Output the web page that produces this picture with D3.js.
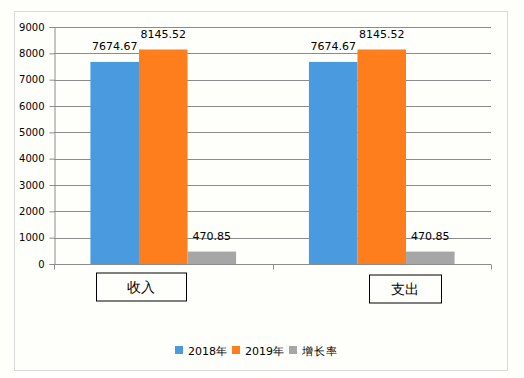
<!DOCTYPE html>
<html>
<head>
<meta charset="utf-8">
<script src="https://cdn.jsdelivr.net/npm/d3@7"></script>
<style>
  html, body { margin: 0; padding: 0; background: #fefefb; overflow: hidden; }
  svg { display: block; }
  text { font-family: "DejaVu Sans", Verdana, sans-serif; fill: #000; }
</style>
</head>
<body>
<div id="chart"></div>
<script>
// chart data
const categories = ["收入", "支出"];
const seriesNames = ["2018年", "2019年", "增长率"];
const seriesColors = ["#4a9ae0", "#fe7e1e", "#a6a6a6"];
const values2018 = [7674.67, 7674.67];
const values2019 = [8145.52, 8145.52];
const valuesRate = [470.85, 470.85];
const yTicks = [0, 1000, 2000, 3000, 4000, 5000, 6000, 7000, 8000, 9000];

const width = 524;
const height = 378;
const margin = { top: 27, right: 33, bottom: 114, left: 54 };
const innerWidth = width - margin.left - margin.right;
const innerHeight = height - margin.top - margin.bottom;

const svg = d3.select("#chart").append("svg")
  .attr("width", width)
  .attr("height", height);

// outer frame
svg.append("rect")
  .attr("x", 14.5).attr("y", 11.5)
  .attr("width", 493).attr("height", 359)
  .attr("fill", "#fefefb")
  .attr("stroke", "#d9d9d9");

const g = svg.append("g")
  .attr("transform", `translate(${margin.left},${margin.top})`);

const x0 = d3.scaleBand()
  .domain(categories)
  .range([0, innerWidth]);

// 150% gap width between groups
const x1 = d3.scaleBand()
  .domain(seriesNames)
  .range([0, x0.bandwidth()])
  .paddingOuter(0.75)
  .paddingInner(0);

const y = d3.scaleLinear()
  .domain([0, 9000])
  .range([innerHeight, 0]);

// gridlines
g.append("g")
  .selectAll("line")
  .data(yTicks.slice(1))
  .enter().append("line")
  .attr("x1", 0).attr("x2", innerWidth)
  .attr("y1", d => Math.round(y(d)) + 0.5)
  .attr("y2", d => Math.round(y(d)) + 0.5)
  .attr("stroke", "#8c8c8c");

// y axis
const yAxis = g.append("g")
  .attr("transform", "translate(0.5,0)")
  .call(d3.axisLeft(y).tickValues(yTicks).tickSize(5).tickPadding(5).tickFormat(d3.format("d")));
yAxis.select(".domain").attr("stroke", "#8c8c8c");
yAxis.selectAll(".tick line").attr("stroke", "#8c8c8c");
yAxis.selectAll("text").attr("font-size", "10px").attr("font-family", "DejaVu Sans");

// bars
const seriesData = [values2018, values2019, valuesRate];
const groups = g.selectAll(".series")
  .data(seriesData)
  .enter().append("g")
  .attr("class", "series")
  .attr("fill", (d, i) => seriesColors[i]);

groups.selectAll("rect")
  .data((d, i) => d.map((v, j) => ({ v, cat: categories[j], s: seriesNames[i] })))
  .enter().append("rect")
  .attr("x", d => x0(d.cat) + x1(d.s))
  .attr("y", d => y(d.v))
  .attr("width", x1.bandwidth())
  .attr("height", d => innerHeight - y(d.v));

// value labels
groups.selectAll("text")
  .data((d, i) => d.map((v, j) => ({ v, cat: categories[j], s: seriesNames[i] })))
  .enter().append("text")
  .attr("x", d => x0(d.cat) + x1(d.s) + x1.bandwidth() / 2)
  .attr("y", d => y(d.v) - 11.5)
  .attr("text-anchor", "middle")
  .attr("font-size", "11px")
  .text(d => d.v.toFixed(2));

// x axis
const xAxis = g.append("g")
  .attr("transform", `translate(0,${Math.round(innerHeight) + 0.5})`);
xAxis.append("line")
  .attr("x1", 0).attr("x2", innerWidth)
  .attr("stroke", "#8c8c8c");
xAxis.selectAll(".xt")
  .data([0, x0.step(), innerWidth])
  .enter().append("line")
  .attr("x1", d => Math.round(d) + 0.5).attr("x2", d => Math.round(d) + 0.5)
  .attr("y1", 0).attr("y2", 5)
  .attr("stroke", "#8c8c8c");

// category label boxes (hand placed text boxes)
const boxOffsets = [-22, 23];
const boxWidths = [90, 72];
const boxTops = [8, 10];
categories.forEach((c, i) => {
  const cx = x0(c) + x0.bandwidth() / 2 + boxOffsets[i];
  xAxis.append("rect")
    .attr("x", Math.round(cx - boxWidths[i] / 2) + 0.5)
    .attr("y", boxTops[i] + 0.5)
    .attr("width", boxWidths[i])
    .attr("height", 28)
    .attr("fill", "#fefefb")
    .attr("stroke", "#000");
  xAxis.append("text")
    .attr("x", cx)
    .attr("y", boxTops[i] + 19)
    .attr("text-anchor", "middle")
    .attr("font-size", "14px")
    .attr("font-family", "Noto Sans CJK SC")
    .text(c);
});

// legend
const legend = svg.append("g")
  .attr("transform", "translate(175,346)");
let lx = 0;
seriesNames.forEach((name, i) => {
  legend.append("rect")
    .attr("x", lx).attr("y", 0)
    .attr("width", 8).attr("height", 8)
    .attr("fill", seriesColors[i]);
  const t = legend.append("text")
    .attr("x", lx + 13)
    .attr("y", 8.5)
    .attr("font-size", "11px")
    .attr("letter-spacing", i === 2 ? "1px" : "0px")
    .text(name);
  lx += 13 + t.node().getComputedTextLength() + 5;
});
</script>
</body>
</html>
